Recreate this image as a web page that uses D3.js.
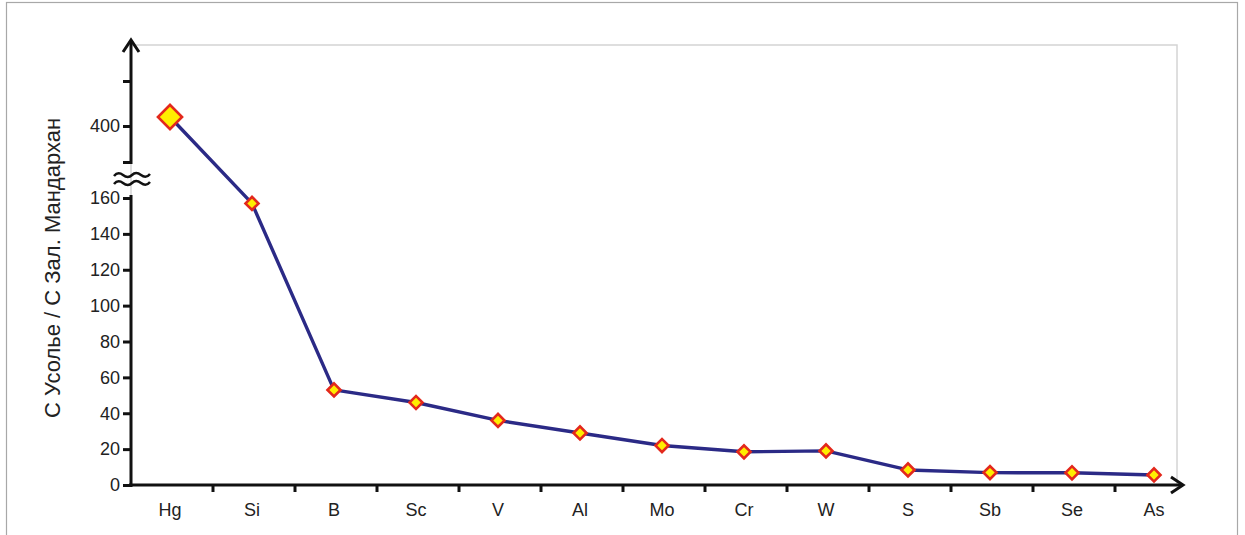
<!DOCTYPE html>
<html><head><meta charset="utf-8">
<script src="https://cdn.jsdelivr.net/npm/d3@7"></script>
<style>body{margin:0;background:#fff}svg{display:block}text{font-family:"Liberation Sans",Arial,sans-serif;fill:#222}</style>
</head><body>
<svg id="c" width="1245" height="535"></svg>
<script>
const categories = ["Hg","Si","B","Sc","V","Al","Mo","Cr","W","S","Sb","Se","As"];
const values = [410,157,53,46,36,29,22,18.5,19,8.4,6.9,6.8,5.6];
const lowerTicks = [0,20,40,60,80,100,120,140,160];
const upperTicks = [360,400,450];
const upperLabels = ["","400",""];
const yTitle = "С Усолье / С Зал. Мандархан";

const svg = d3.select("#c");
const x0 = 131, yBase = 485;

svg.append("rect").attr("x",6.5).attr("y",2.5).attr("width",1231).attr("height",540)
  .attr("fill","none").attr("stroke","#a8a8a8").attr("stroke-width",1.2);
svg.append("rect").attr("x",x0).attr("y",45).attr("width",1177-x0).attr("height",yBase-45)
  .attr("fill","none").attr("stroke","#d4d4d4").attr("stroke-width",1.5);

const x = d3.scalePoint().domain(categories).range([170,1154]);
const step = x.step();
const yLow = d3.scaleLinear().domain([0,160]).range([yBase,198]);
const yUp = d3.scaleLinear().domain([360,450]).range([162,81]);
const yv = v => v > 200 ? yUp(v) : yLow(v);

const g = svg.append("g");
const axL = g.append("g").attr("transform",`translate(${x0},0)`)
  .call(d3.axisLeft(yLow).tickValues(lowerTicks).tickSize(8).tickPadding(3));
const axU = g.append("g").attr("transform",`translate(${x0},0)`)
  .call(d3.axisLeft(yUp).tickValues(upperTicks).tickFormat((d,i)=>upperLabels[i]).tickSize(8).tickPadding(3));
[axL,axU].forEach(a=>{
  a.select(".domain").remove();
  a.selectAll("line").attr("stroke","#111").attr("stroke-width",3);
  a.selectAll("text").attr("font-size",18).attr("fill","#222").attr("font-family","Liberation Sans, Arial, sans-serif");
});
function P(d){return g.append("path").attr("d",d).attr("stroke","#111").attr("stroke-width",3).attr("fill","none");}
P(`M${x0},${yBase+2}V195`);
P(`M${x0},164V41`);
P(`M${x0-8},52L${x0},40L${x0+8},52`);
P(`M114,176 q4,-5 9,-1 t9,0 t9,0 t9,-1`).attr("stroke-width",2.5);
P(`M114,184 q4,-5 9,-1 t9,0 t9,0 t9,-1`).attr("stroke-width",2.5);

const xTicks = categories.slice(0,-1).map(c=>x(c)+step/2+2);
P(`M${x0-2},${yBase}H1183`);
P(`M1171,${yBase-8}L1183,${yBase}L1171,${yBase+8}`);
g.selectAll(".xt").data(xTicks).join("line").attr("x1",d=>d).attr("x2",d=>d)
  .attr("y1",yBase).attr("y2",yBase+7).attr("stroke","#111").attr("stroke-width",3);
g.selectAll(".xl").data(categories).join("text").attr("x",d=>x(d)).attr("y",516)
  .attr("text-anchor","middle").attr("font-size",18).text(d=>d);

svg.append("text").attr("transform","translate(60,268) rotate(-90)").attr("text-anchor","middle")
  .attr("font-size",22).text(yTitle);

const data = categories.map((c,i)=>({c,v:values[i]}));
svg.append("path").datum(data)
  .attr("d",d3.line().x(d=>x(d.c)).y(d=>yv(d.v)).curve(d3.curveLinear))
  .attr("fill","none").attr("stroke","#2b2a86").attr("stroke-width",3.4).attr("stroke-linejoin","round");

const sym = d3.symbol().type(d3.symbolSquare);
svg.selectAll(".m").data(data).join("path")
  .attr("d",(d,i)=>sym.size(i===0?290:85)())
  .attr("transform",d=>`translate(${x(d.c)},${yv(d.v)}) rotate(45)`)
  .attr("fill","#ffee00").attr("stroke","#e3281c").attr("stroke-width",2.6);
</script>
</body></html>
